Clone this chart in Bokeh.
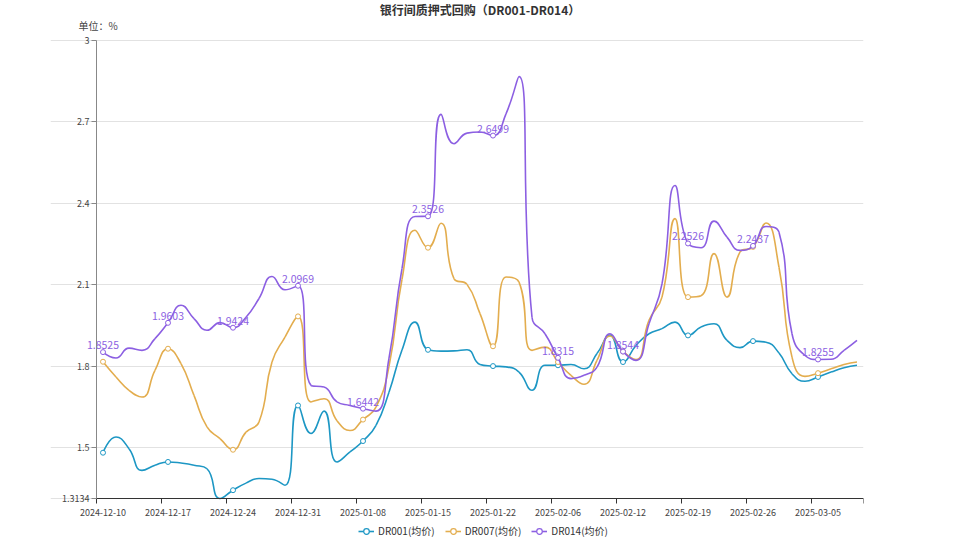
import math
from bokeh.plotting import figure
from bokeh.layouts import column
from bokeh.models import Range1d, FixedTicker, Label, Legend, LegendItem, ColumnDataSource
from bokeh.core.properties import value
from bokeh.embed import file_html
from bokeh.resources import INLINE

# ---------------- data ----------------
dates = [
    "2024-12-10", "2024-12-11", "2024-12-12", "2024-12-13", "2024-12-16",
    "2024-12-17", "2024-12-18", "2024-12-19", "2024-12-20", "2024-12-23",
    "2024-12-24", "2024-12-25", "2024-12-26", "2024-12-27", "2024-12-30",
    "2024-12-31", "2025-01-02", "2025-01-03", "2025-01-06", "2025-01-07",
    "2025-01-08", "2025-01-09", "2025-01-10", "2025-01-13", "2025-01-14",
    "2025-01-15", "2025-01-16", "2025-01-17", "2025-01-20", "2025-01-21",
    "2025-01-22", "2025-01-23", "2025-01-24", "2025-01-27", "2025-02-05",
    "2025-02-06", "2025-02-07", "2025-02-08", "2025-02-10", "2025-02-11",
    "2025-02-12", "2025-02-13", "2025-02-14", "2025-02-17", "2025-02-18",
    "2025-02-19", "2025-02-20", "2025-02-21", "2025-02-24", "2025-02-25",
    "2025-02-26", "2025-02-27", "2025-02-28", "2025-03-03", "2025-03-04",
    "2025-03-05", "2025-03-06", "2025-03-07", "2025-03-10",
]

dr001 = [
    1.482, 1.540, 1.497, 1.417, 1.436, 1.448, 1.444, 1.436, 1.423, 1.3134,
    1.344, 1.370, 1.387, 1.384, 1.362, 1.656, 1.553, 1.635, 1.448, 1.485,
    1.525, 1.583, 1.705, 1.860, 1.963, 1.861, 1.856, 1.857, 1.861, 1.807,
    1.801, 1.798, 1.779, 1.712, 1.804, 1.804, 1.807, 1.791, 1.847, 1.915,
    1.816, 1.877, 1.920, 1.939, 1.963, 1.914, 1.945, 1.957, 1.896, 1.869,
    1.893, 1.889, 1.849, 1.773, 1.745, 1.761, 1.779, 1.795, 1.804,
]

dr007 = [
    1.817, 1.761, 1.712, 1.687, 1.785, 1.865, 1.810, 1.693, 1.577, 1.534,
    1.493, 1.558, 1.595, 1.816, 1.908, 1.984, 1.669, 1.681, 1.600, 1.564,
    1.604, 1.650, 1.800, 2.120, 2.301, 2.237, 2.327, 2.123, 2.102, 1.994,
    1.874, 2.129, 2.110, 1.859, 1.871, 1.816, 1.767, 1.734, 1.822, 1.912,
    1.855, 1.825, 1.970, 2.055, 2.344, 2.055, 2.060, 2.215, 2.055, 2.221,
    2.240, 2.328, 2.165, 1.834, 1.763, 1.775, 1.791, 1.807, 1.816,
]

dr014 = [
    1.8525, 1.831, 1.867, 1.859, 1.902, 1.9603, 2.025, 1.976, 1.933, 1.961,
    1.9424, 1.981, 2.050, 2.131, 2.082, 2.0969, 1.730, 1.724, 1.669, 1.656,
    1.6442, 1.635, 1.830, 2.160, 2.352, 2.3526, 2.728, 2.620, 2.659, 2.663,
    2.6499, 2.730, 2.867, 1.981, 1.920, 1.8315, 1.755, 1.767, 1.797, 1.920,
    1.8544, 1.822, 1.957, 2.104, 2.466, 2.2526, 2.237, 2.335, 2.276, 2.227,
    2.2437, 2.315, 2.294, 1.920, 1.840, 1.8255, 1.826, 1.859, 1.896,
]

series_names = ["DR001(均价)", "DR007(均价)", "DR014(均价)"]
y_ticks = [1.3134, 1.5, 1.8, 2.1, 2.4, 2.7, 3.0]
y_tick_labels = ["1.3134", "1.5", "1.8", "2.1", "2.4", "2.7", "3"]
title_text = "银行间质押式回购（DR001-DR014）"
unit_text = "单位：%"

# ---------------- geometry / styles ----------------
colors = ["#1d97c4", "#e3ad4e", "#8c5fe2"]
FONT = "Noto Sans CJK SC"
W = 958
AX_L, AX_R, AX_T, AX_B = 96, 863, 40, 498   # axis box in page pixels
HEAD_H = 32
FOOT_H = 16
MAIN_BOTTOM_PAGE = 539 - FOOT_H
MAIN_H = MAIN_BOTTOM_PAGE - HEAD_H
FRAME_L = 50
STEP = 5

n = len(dates)
xs = list(range(n))
xa0, xa1 = -0.5, n - 0.5
ymin, ymax = y_ticks[0], y_ticks[-1]
kx = (AX_R - AX_L) / (xa1 - xa0)
ky = (AX_B - AX_T) / (ymax - ymin)
x_start = xa0 - (AX_L - FRAME_L) / kx
y_end = ymax + (AX_T - HEAD_H) / ky
y_start = ymin - (MAIN_BOTTOM_PAGE - AX_B) / ky


def smooth_bezier(xv, yv, smooth=0.5):
    """ECharts-style smoothing: returns bezier segments in data space."""
    P = [(x * kx, y * ky) for x, y in zip(xv, yv)]
    m = len(P)
    out = {k: [] for k in ("x0", "y0", "x1", "y1", "cx0", "cy0", "cx1", "cy1")}
    cp0 = P[0]
    for i in range(1, m):
        x, y = P[i]
        px, py = P[i - 1]
        if i == m - 1:
            cp1 = (x, y)
            ncp0 = None
        else:
            nx, ny = P[i + 1]
            vx, vy = nx - px, ny - py
            l0 = math.hypot(x - px, y - py)
            l1 = math.hypot(nx - x, ny - y)
            r = l1 / (l0 + l1)
            ncx = x + vx * smooth * r
            ncy = y + vy * smooth * r
            ncx = max(min(ncx, max(nx, x)), min(nx, x))
            ncy = max(min(ncy, max(ny, y)), min(ny, y))
            vx, vy = ncx - x, ncy - y
            c1x = x - vx * l0 / l1
            c1y = y - vy * l0 / l1
            c1x = max(min(c1x, max(px, x)), min(px, x))
            c1y = max(min(c1y, max(py, y)), min(py, y))
            vx, vy = x - c1x, y - c1y
            ncx = x + vx * l1 / l0
            ncy = y + vy * l1 / l0
            cp1 = (c1x, c1y)
            ncp0 = (ncx, ncy)
        out["x0"].append(px / kx); out["y0"].append(py / ky)
        out["x1"].append(x / kx); out["y1"].append(y / ky)
        out["cx0"].append(cp0[0] / kx); out["cy0"].append(cp0[1] / ky)
        out["cx1"].append(cp1[0] / kx); out["cy1"].append(cp1[1] / ky)
        cp0 = ncp0
    return out


def blank_fig(height):
    f = figure(width=W, height=height, output_backend="svg", toolbar_location=None,
               tools="", title_location=None, x_axis_location=None, y_axis_location=None,
               x_range=Range1d(0, 1), y_range=Range1d(0, 1),
               min_border_left=FRAME_L, min_border_right=W - AX_R,
               min_border_top=0, min_border_bottom=0)
    f.outline_line_color = None
    f.background_fill_color = "white"
    f.border_fill_color = "white"
    f.grid.visible = False
    return f


# ---------------- header (title + unit) ----------------
head = blank_fig(HEAD_H)
head.add_layout(Label(x=(AX_L + AX_R) / 2 - FRAME_L, y=HEAD_H - 9,
                      x_units="screen", y_units="screen",
                      text=title_text, text_align="center", text_baseline="middle",
                      text_font=FONT, text_font_size="12px", text_font_style="bold",
                      text_color="#333333"))
head.add_layout(Label(x=78 - FRAME_L, y=HEAD_H - 25, x_units="screen", y_units="screen",
                      text=unit_text, text_align="left", text_baseline="middle",
                      text_font=FONT, text_font_size="10px", text_color="#444444"))

# ---------------- main chart ----------------
p = figure(width=W, height=MAIN_H, output_backend="svg", toolbar_location=None, tools="",
           title_location=None,
           x_range=Range1d(x_start, xa1), y_range=Range1d(y_start, y_end),
           min_border_left=FRAME_L, min_border_right=W - AX_R,
           min_border_top=0, min_border_bottom=0)
p.outline_line_color = None
p.background_fill_color = "white"
p.border_fill_color = "white"

p.xgrid.visible = False
p.ygrid.ticker = FixedTicker(ticks=y_ticks)
p.ygrid.bounds = (xa0, xa1)
p.ygrid.grid_line_color = "#e2e2e2"
p.ygrid.grid_line_width = 1

ya = p.yaxis[0]
ya.fixed_location = xa0
ya.bounds = (ymin, ymax)
ya.ticker = FixedTicker(ticks=y_ticks)
ya.major_label_overrides = {t: s for t, s in zip(y_ticks, y_tick_labels)}
ya.axis_line_color = "#888888"
ya.major_tick_line_color = "#888888"
ya.major_tick_out = 5
ya.major_tick_in = 0
ya.minor_tick_line_color = None
ya.major_label_standoff = 2
ya.major_label_text_font = FONT
ya.major_label_text_font_size = "9px"
ya.major_label_text_color = "#444444"

xa = p.xaxis[0]
label_idx = list(range(0, n, STEP))
xa.fixed_location = ymin
xa.bounds = (xa0, xa1)
xa.ticker = FixedTicker(ticks=label_idx,
                        minor_ticks=[i - 0.5 for i in label_idx] + [n - 0.5])
xa.major_label_overrides = {i: dates[i] for i in label_idx}
xa.axis_line_color = "#333333"
xa.major_tick_line_color = None
xa.major_tick_out = 0
xa.major_tick_in = 0
xa.minor_tick_line_color = "#333333"
xa.minor_tick_out = 5
xa.minor_tick_in = 0
xa.major_label_standoff = 5
xa.major_label_text_font = FONT
xa.major_label_text_font_size = "9px"
xa.major_label_text_color = "#444444"

all_series = [dr001, dr007, dr014]
for vals, col in zip(all_series, colors):
    seg = smooth_bezier(xs, vals)
    p.bezier(x0="x0", y0="y0", x1="x1", y1="y1", cx0="cx0", cy0="cy0",
             cx1="cx1", cy1="cy1", source=ColumnDataSource(seg),
             line_color=col, line_width=1.6)
    p.scatter(x=[xs[i] for i in label_idx], y=[vals[i] for i in label_idx],
              marker="circle", size=5, fill_color="white", line_color=col, line_width=1)

p.text(x=[xs[i] for i in label_idx], y=[dr014[i] for i in label_idx],
       text=[f"{dr014[i]:.4f}" for i in label_idx],
       text_align="center", text_baseline="bottom", y_offset=-3,
       text_font=value(FONT), text_font_size="10.5px", text_color=colors[2])

# ---------------- footer (legend) ----------------
foot = blank_fig(FOOT_H)
nan = float("nan")
legend_items = []
for col, name in zip(colors, series_names):
    ln = foot.line(x=[nan, nan], y=[nan, nan], line_color=col, line_width=1.6)
    sc = foot.scatter(x=[nan], y=[nan], marker="circle", size=7, fill_color="white",
                      line_color=col, line_width=1.2)
    legend_items.append(LegendItem(label=name, renderers=[ln, sc]))
legend = Legend(items=legend_items, orientation="horizontal", location=(358 - FRAME_L, 1),
                padding=0, margin=0, spacing=10, label_standoff=4,
                glyph_width=16, glyph_height=14,
                label_text_font=FONT, label_text_font_size="10px",
                label_text_color="#333333", border_line_color=None,
                background_fill_alpha=0)
foot.add_layout(legend)

layout = column(head, p, foot, spacing=0)
open("out.html", "w").write(file_html(layout, INLINE))
